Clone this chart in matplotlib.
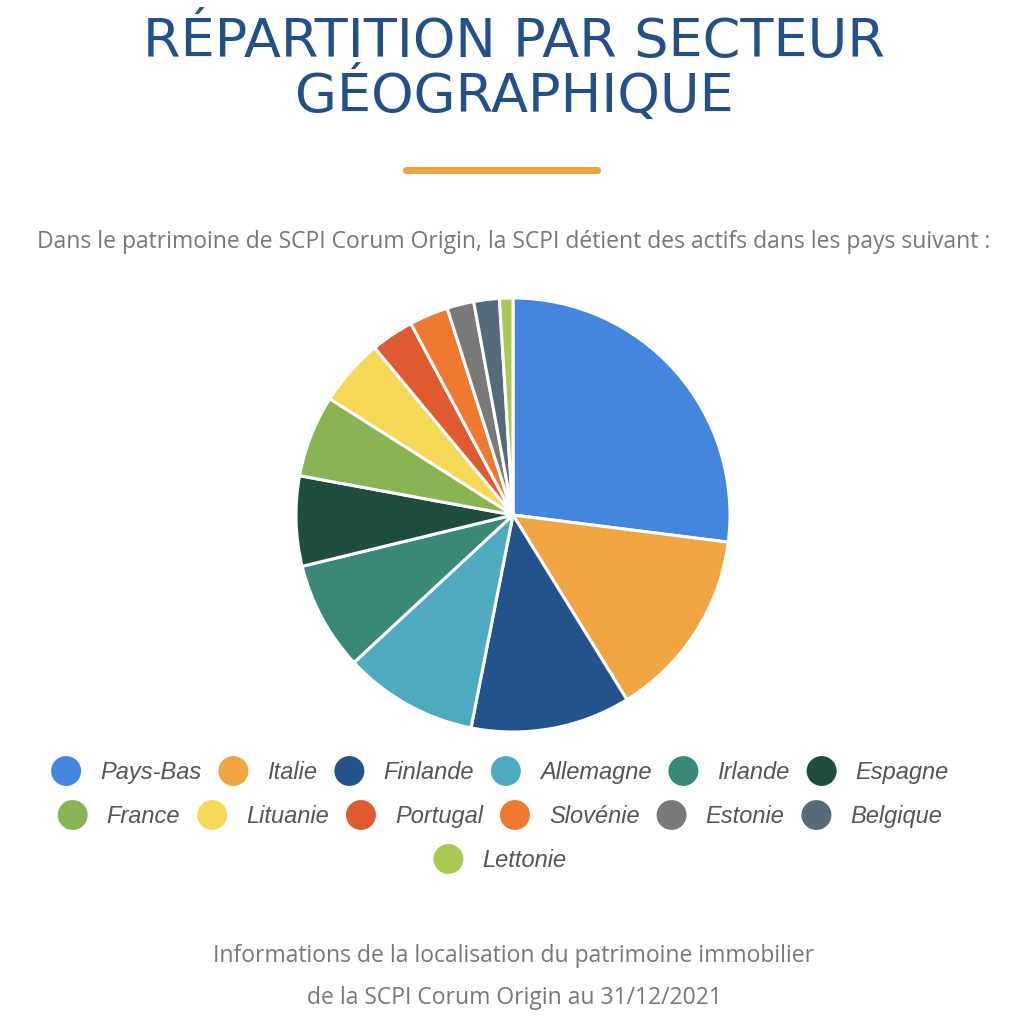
import matplotlib.pyplot as plt
from matplotlib.patches import Circle, FancyBboxPatch

# données (en %)
PAYS = ['Pays-Bas', 'Italie', 'Finlande', 'Allemagne', 'Irlande', 'Espagne',
        'France', 'Lituanie', 'Portugal', 'Slovénie', 'Estonie', 'Belgique', 'Lettonie']
PARTS = [27.0, 14.2, 11.9, 10.0, 8.1, 6.7, 6.1, 5.0, 3.2, 2.9, 2.0, 1.9, 1.0]
COULEURS = ['#4486de', '#f0a442', '#24538c', '#4eaabf', '#3a8878', '#1e4d40',
            '#8ab354', '#f5d856', '#e05a31', '#ef7a2f', '#797979', '#566b7a', '#a9c952']

TITRE = ['RÉPARTITION PAR SECTEUR', 'GÉOGRAPHIQUE']
SOUS_TITRE = 'Dans le patrimoine de SCPI Corum Origin, la SCPI détient des actifs dans les pays suivant :'
NOTE = ['Informations de la localisation du patrimoine immobilier',
        'de la SCPI Corum Origin au 31/12/2021']

W, H = 1028, 1024


def fx(px):
    return px / W


def fy(py):
    return 1 - py / H


fig = plt.figure(figsize=(W / 100, H / 100), dpi=100)

# titre
for i, ligne in enumerate(TITRE):
    fig.text(0.5, fy(57 + 56 * i), ligne, ha='center', va='baseline', fontsize=39,
             color='#24508a', family='DejaVu Sans')

# trait orange sous le titre
fig.patches.append(FancyBboxPatch((fx(403), fy(174)), fx(198), 7 / H,
                                  boxstyle='round,pad=0,rounding_size=0.0035',
                                  transform=fig.transFigure, color='#f0a33d', lw=0))

fig.text(0.5, fy(248), SOUS_TITRE, ha='center', va='baseline', fontsize=16.5,
         color='#777777', family='Open Sans')

# camembert
cx, cy, r = 513, 515, 217
ax = fig.add_axes([fx(cx - r), fy(cy + r), 2 * r / W, 2 * r / H])
ax.pie(PARTS, colors=COULEURS, startangle=90, counterclock=False,
       wedgeprops=dict(edgecolor='white', linewidth=2.2))
ax.set_xlim(-1, 1)
ax.set_ylim(-1, 1)
ax.set_aspect('auto')
ax.axis('off')

# légende en lignes centrées
fig.canvas.draw()
renderer = fig.canvas.get_renderer()
FS_LEG = 17
largeurs = []
for nom in PAYS:
    t = fig.text(0, 0, nom, fontsize=FS_LEG, style='italic', family='Liberation Sans')
    largeurs.append(t.get_window_extent(renderer).width)
    t.remove()

diam, gap_txt, gap_item, max_w = 30, 19, 17, 940
lignes, courante, w = [], [], 0
for i, lw in enumerate(largeurs):
    iw = diam + gap_txt + lw
    ajout = iw if not courante else w + gap_item + iw
    if courante and ajout > max_w:
        lignes.append((courante, w))
        courante, w = [i], iw
    else:
        courante.append(i)
        w = ajout
lignes.append((courante, w))

for k, (items, tot) in enumerate(lignes):
    y = 771 + 44 * k
    x = 500 - tot / 2
    for i in items:
        fig.patches.append(Circle((fx(x + diam / 2), fy(y)), diam / 2 / W,
                                  transform=fig.transFigure, color=COULEURS[i], lw=0))
        fig.text(fx(x + diam + gap_txt), fy(y + 8), PAYS[i], fontsize=FS_LEG, style='italic',
                 family='Liberation Sans', color='#555555', ha='left', va='baseline')
        x += diam + gap_txt + largeurs[i] + gap_item

for i, ligne in enumerate(NOTE):
    fig.text(0.5, fy(962 + 42 * i), ligne, ha='center', va='baseline', fontsize=16.5,
             color='#777777', family='Open Sans')

fig.savefig('out.png', dpi=100, facecolor='white')
